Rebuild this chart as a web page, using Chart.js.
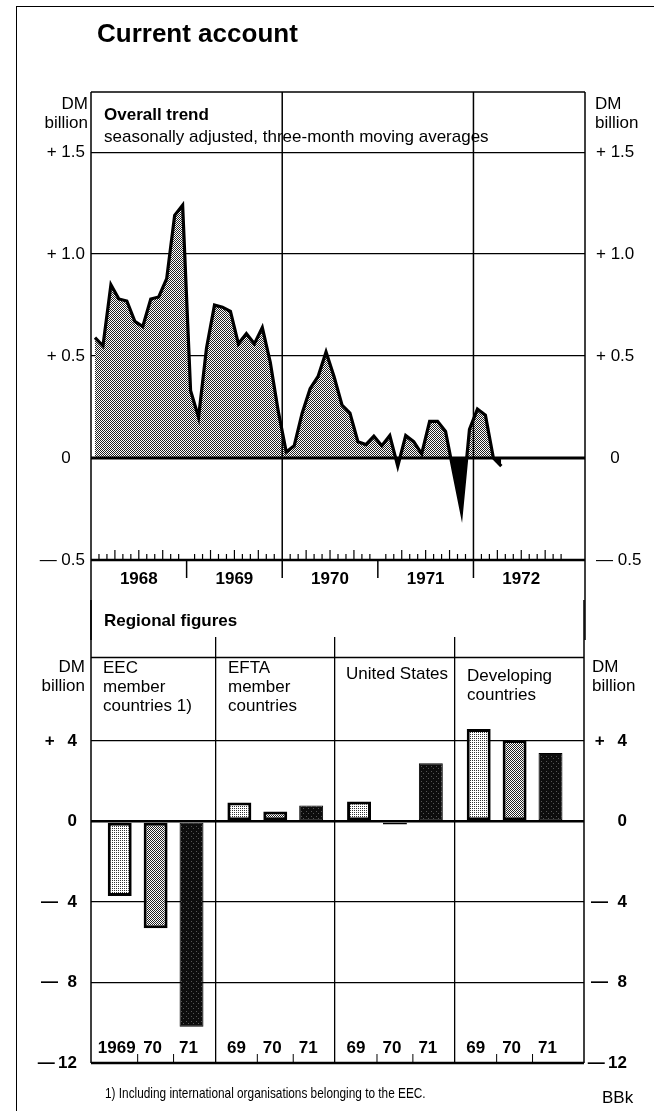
<!DOCTYPE html>
<html>
<head>
<meta charset="utf-8">
<title>Current account</title>
<script src="https://cdn.jsdelivr.net/npm/chart.js@4.4.1/dist/chart.umd.min.js"></script>
<style>
  html, body { margin: 0; padding: 0; background: #fff; overflow: hidden; }
  body { width: 654px; height: 1111px; position: relative; font-family: "Liberation Sans", Arial, sans-serif; color: #000; }
  canvas { position: absolute; left: 0; }
  .t { position: absolute; white-space: nowrap; font-size: 17px; line-height: 19px; }
  .b { font-weight: bold; }
  .r { text-align: right; }
  #frame { position: absolute; left: 16px; top: 6px; width: 700px; height: 1200px; border-top: 1.5px solid #000; border-left: 1.5px solid #000; }
  #note { font-size: 14.5px; transform: scaleX(0.815); transform-origin: left center; }
</style>
</head>
<body>
<div id="frame"></div>
<canvas id="trend" width="654" height="640" style="top:0"></canvas>
<canvas id="regions" width="654" height="511" style="top:600px"></canvas>

<div class="t b" style="left:97px; top:18px; font-size:26px; line-height:30px;">Current account</div>

<div class="t r" style="left:0; width:88px; top:94px;">DM<br>billion</div>
<div class="t" style="left:595px; top:94px;">DM<br>billion</div>
<div class="t b" style="left:104px; top:105px;">Overall trend</div>
<div class="t" style="left:104px; top:127px;">seasonally adjusted, three-month moving averages</div>

<div class="t b" style="left:104px; top:611px;">Regional figures</div>
<div class="t r" style="left:0; width:85px; top:657px;">DM<br>billion</div>
<div class="t" style="left:592px; top:657px;">DM<br>billion</div>
<div class="t" style="left:103px; top:658px;">EEC<br>member<br>countries 1)</div>
<div class="t" style="left:228px; top:658px;">EFTA<br>member<br>countries</div>
<div class="t" style="left:346px; top:664px;">United States</div>
<div class="t" style="left:467px; top:666px;">Developing<br>countries</div>

<div id="note" class="t" style="left:105px; top:1084px;">1) Including international organisations belonging to the EEC.</div>
<div class="t" style="left:602px; top:1088px;">BBk</div>

<script>
// Overall trend, DM billion, monthly from Jan 1968 (three-month moving averages)
const trendValues = [
  0.59, 0.55, 0.85, 0.78, 0.77, 0.67, 0.645, 0.78, 0.79, 0.88, 1.19, 1.24,
  0.33, 0.20, 0.54, 0.75, 0.74, 0.72, 0.56, 0.61, 0.56, 0.64, 0.47, 0.23,
  0.03, 0.06, 0.22, 0.34, 0.40, 0.52, 0.40, 0.26, 0.22, 0.08, 0.066, 0.107,
  0.06, 0.11, -0.04, 0.11, 0.08, 0.02, 0.18, 0.18, 0.13, -0.07, -0.265, 0.14,
  0.24, 0.21, 0.0, -0.04
];
const trendYears = ['1968', '1969', '1970', '1971', '1972'];
const yearMidpoints = [6, 18, 30, 42, 54];
const yearStarts = [12, 24, 36, 48];
const fullGridYears = [24, 48];
const trendTicks = [-0.5, 0, 0.5, 1.0, 1.5];

// Regional figures, DM billion
const regionNames = ['EEC member countries', 'EFTA member countries', 'United States', 'Developing countries'];
const values1969 = [-3.7, 0.95, 1.0, 4.6];
const values1970 = [-5.3, 0.5, -0.15, 4.05];
const values1971 = [-10.2, 0.8, 2.9, 3.4];
const regionTicks = [4, 0, -4, -8, -12];
const firstYearLabels = ['1969', '70', '71'];
const yearLabels = ['69', '70', '71'];
const regionSeparators = [0.5, 1.5, 2.5];
const headerLine = 8.15;

Chart.defaults.font.family = '"Liberation Sans", Arial, sans-serif';
Chart.defaults.font.size = 17;
Chart.defaults.color = '#000';
Chart.defaults.animation = false;

function makePattern(size, dots, ink, paper) {
  const c = document.createElement('canvas');
  c.width = c.height = size;
  const g = c.getContext('2d');
  g.fillStyle = paper;
  g.fillRect(0, 0, size, size);
  g.fillStyle = ink;
  dots.forEach(([x, y]) => g.fillRect(x, y, 1, 1));
  return g.createPattern(c, 'repeat');
}

const mediumDots = makePattern(2, [[0, 0], [1, 1]], '#222', '#fff');
const lightDots = makePattern(2, [[0, 0]], '#333', '#fff');
const darkDots = makePattern(5, [[1, 1], [3, 3]], '#555', '#0d0d0d');

function line(ctx, x1, y1, x2, y2) {
  ctx.beginPath();
  ctx.moveTo(x1, y1);
  ctx.lineTo(x2, y2);
  ctx.stroke();
}

// left labels right-aligned, "0" nudged toward the middle
function trendLabelLeft(v) {
  if (v === 0) return '0\u2007 ';
  return (v > 0 ? '+ ' : '— ') + Math.abs(v).toFixed(1);
}

function trendLabelRight(v) {
  if (v === 0) return '\u2007 0';
  return (v > 0 ? '+ ' : '— ') + Math.abs(v).toFixed(1);
}

function regionLabel(v) {
  if (v === 0) return '0';
  const n = Math.abs(v);
  if (v > 0) return '+\u2007\u2009' + n;
  return '—' + (n < 10 ? '\u2007' : '\u2009') + n;
}

// frame, zero line and month ticks of the trend panel
const trendFrame = {
  id: 'trendFrame',
  afterDraw(chart) {
    const { ctx, chartArea: a, scales: { x, y } } = chart;
    ctx.save();
    ctx.strokeStyle = '#000';
    ctx.lineWidth = 3;
    const y0 = y.getPixelForValue(0);
    line(ctx, a.left, y0, a.right, y0);
    ctx.lineWidth = 2.5;
    line(ctx, a.left, a.bottom, a.right, a.bottom);
    ctx.lineWidth = 1.5;
    line(ctx, a.left, a.top, a.left, chart.height);
    line(ctx, a.right, a.top, a.right, chart.height);
    line(ctx, a.left, a.top, a.right, a.top);
    yearStarts.forEach(m => {
      const px = x.getPixelForValue(m);
      line(ctx, px, fullGridYears.includes(m) ? a.top : a.bottom, px, a.bottom + 18);
    });
    ctx.lineWidth = 1.2;
    for (let m = 1; m < 61; m++) {
      if (m % 12 === 0) continue;
      const px = x.getPixelForValue(m);
      line(ctx, px, a.bottom, px, a.bottom - (m % 3 === 0 ? 10 : 6));
    }
    ctx.restore();
  }
};

new Chart(document.getElementById('trend'), {
  type: 'line',
  data: {
    datasets: [{
      data: trendValues.map((v, i) => ({ x: i + 0.5, y: v })),
      borderColor: '#000',
      borderWidth: 3.2,
      pointRadius: 0,
      tension: 0,
      fill: { target: 'origin', above: mediumDots, below: '#000' }
    }]
  },
  options: {
    responsive: false,
    layout: { padding: { left: 31, right: 9, top: 92, bottom: 40 } },
    plugins: { legend: { display: false }, tooltip: { enabled: false } },
    scales: {
      x: {
        type: 'linear', min: 0, max: 62,
        afterBuildTicks: s => { s.ticks = yearMidpoints.map(v => ({ value: v })); },
        afterFit: s => { s.height = 40; },
        ticks: { callback: (v, i) => trendYears[i], font: { weight: 'bold' }, padding: 9, autoSkip: false, maxRotation: 0 },
        grid: { display: false, drawTicks: false },
        border: { display: false }
      },
      y: {
        position: 'left', min: -0.5, max: 1.795,
        afterBuildTicks: s => { s.ticks = trendTicks.map(v => ({ value: v })); },
        afterFit: s => { s.width = 60; },
        ticks: { callback: trendLabelLeft, padding: 6 },
        grid: { color: '#000', lineWidth: 1.3, drawTicks: false },
        border: { display: false }
      },
      y2: {
        position: 'right', min: -0.5, max: 1.795,
        afterBuildTicks: s => { s.ticks = trendTicks.map(v => ({ value: v })); },
        afterFit: s => { s.width = 60; },
        ticks: { callback: trendLabelRight, padding: 11 },
        grid: { display: false, drawTicks: false },
        border: { display: false }
      }
    }
  },
  plugins: [trendFrame]
});

// frame, header line and period labels of the regional panel
const regionFrame = {
  id: 'regionFrame',
  afterDraw(chart) {
    const { ctx, chartArea: a, scales: { y } } = chart;
    ctx.save();
    ctx.strokeStyle = '#000';
    ctx.lineWidth = 1.5;
    line(ctx, a.left, 0, a.left, a.bottom);
    line(ctx, a.right, 0, a.right, a.bottom);
    const hy = y.getPixelForValue(headerLine);
    line(ctx, a.left, hy, a.right, hy);
    ctx.lineWidth = 2.5;
    line(ctx, a.left, a.bottom, a.right, a.bottom);
    ctx.font = 'bold 17px "Liberation Sans", Arial, sans-serif';
    ctx.fillStyle = '#000';
    ctx.textAlign = 'center';
    ctx.textBaseline = 'middle';
    ctx.lineWidth = 1;
    regionNames.forEach((_, k) => {
      const bars = chart.data.datasets.map((_, d) => chart.getDatasetMeta(d).data[k]);
      const labels = k === 0 ? firstYearLabels : yearLabels;
      bars.forEach((bar, d) => {
        ctx.fillText(labels[d], bar.x - 3, a.bottom - 15);
        if (d > 0) {
          const mx = (bars[d - 1].x + bar.x) / 2;
          line(ctx, mx, a.bottom, mx, a.bottom - 9);
        }
      });
    });
    ctx.restore();
  }
};

const regionFills = [lightDots, mediumDots, darkDots];
const regionBorders = [3, 3, 1];

new Chart(document.getElementById('regions'), {
  type: 'bar',
  data: {
    datasets: [values1969, values1970, values1971].map((vals, d) => ({
      label: firstYearLabels[d],
      data: vals.map((v, k) => ({ x: k, y: v })),
      backgroundColor: regionFills[d],
      borderColor: '#000',
      borderWidth: regionBorders[d],
      borderSkipped: false,
      categoryPercentage: 0.9,
      barPercentage: 0.667
    }))
  },
  options: {
    responsive: false,
    layout: { padding: { left: 21, right: 27, top: 37, bottom: 48 } },
    plugins: { legend: { display: false }, tooltip: { enabled: false } },
    scales: {
      x: {
        type: 'linear', min: -0.54, max: 3.58, offset: false,
        afterBuildTicks: s => { s.ticks = regionSeparators.map(v => ({ value: v })); },
        afterFit: s => { s.height = 0; },
        ticks: { display: false },
        grid: { color: '#000', lineWidth: 1.3, drawTicks: false, offset: false },
        border: { display: false }
      },
      y: {
        position: 'left', min: -12, max: 9.17,
        afterBuildTicks: s => { s.ticks = regionTicks.map(v => ({ value: v })); },
        afterFit: s => { s.width = 70; },
        ticks: { callback: regionLabel, font: { weight: 'bold' }, padding: 14 },
        grid: { color: '#000', lineWidth: c => (c.tick.value === 0 ? 2.5 : 1.3), drawTicks: false },
        border: { display: false }
      },
      y2: {
        position: 'right', min: -12, max: 9.17,
        afterBuildTicks: s => { s.ticks = regionTicks.map(v => ({ value: v })); },
        afterFit: s => { s.width = 43; },
        ticks: { callback: regionLabel, font: { weight: 'bold' }, crossAlign: 'far', padding: 8 },
        grid: { display: false, drawTicks: false },
        border: { display: false }
      }
    }
  },
  plugins: [regionFrame]
});
</script>
</body>
</html>
